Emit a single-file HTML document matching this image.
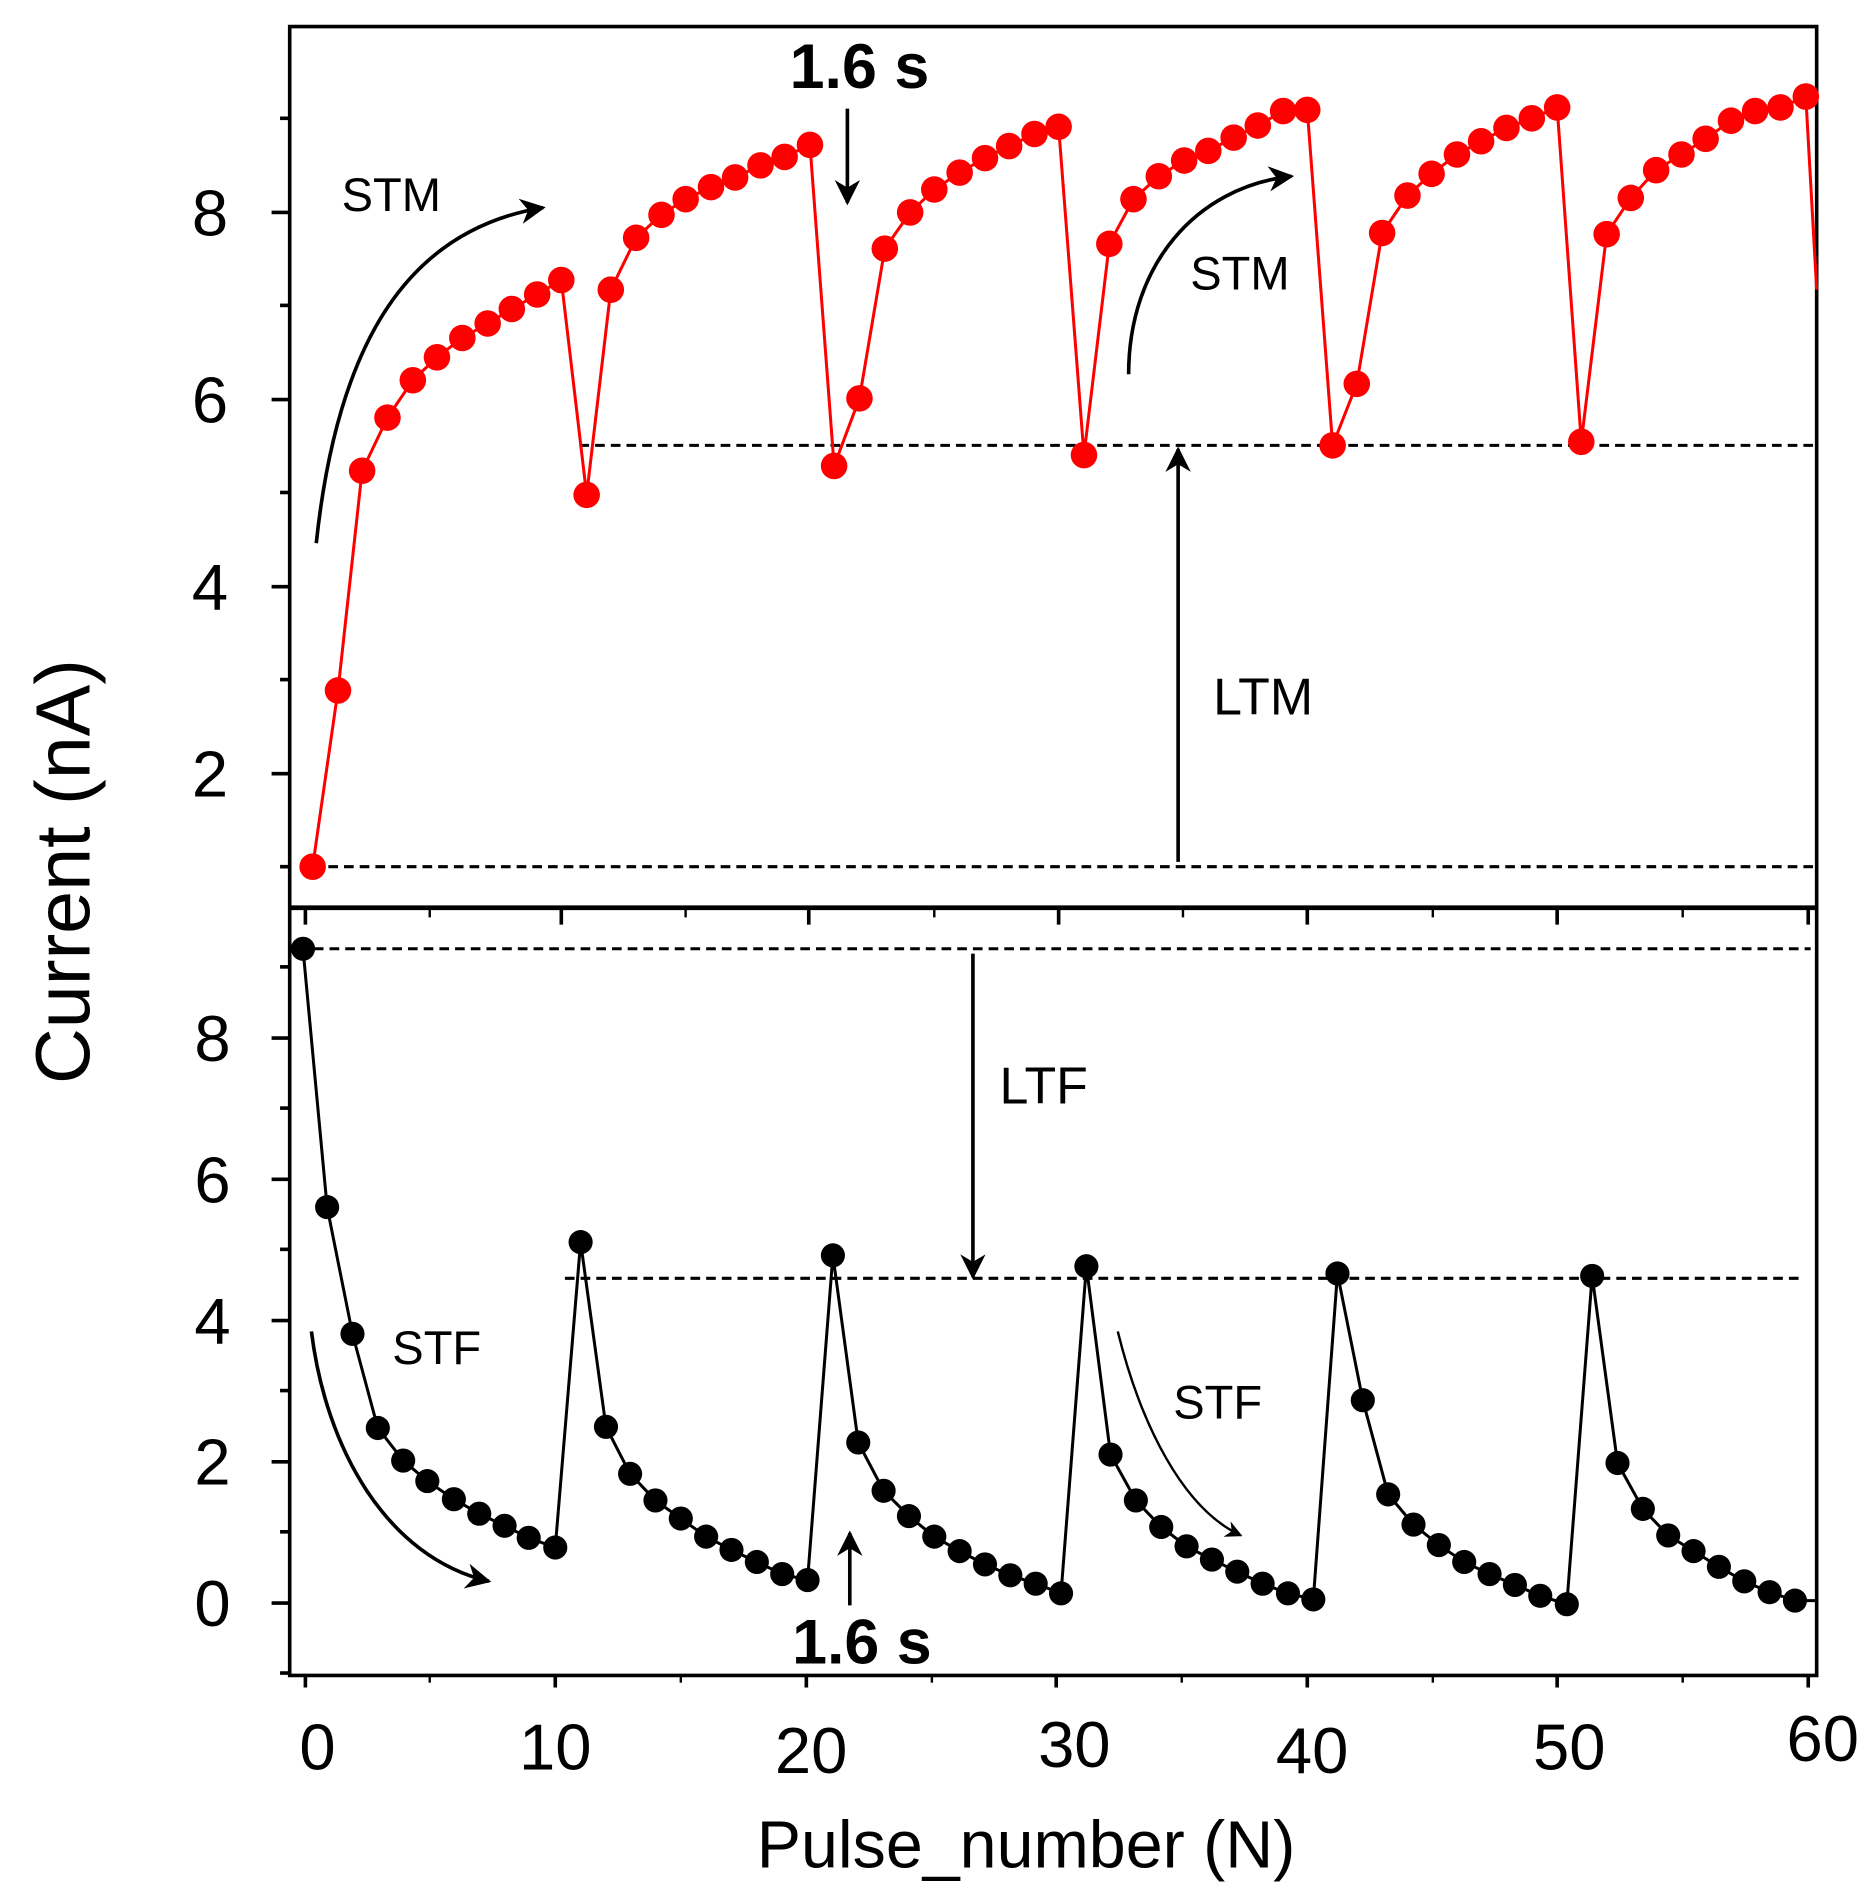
<!DOCTYPE html>
<html><head><style>html,body{margin:0;padding:0;background:#fff}svg{display:block}</style></head>
<body>
<svg width="1871" height="1892" viewBox="0 0 1550 1567.4" xmlns="http://www.w3.org/2000/svg" font-family="Liberation Sans, sans-serif">
<defs>
<marker id="ah" viewBox="0 0 10 10" refX="9" refY="5" markerWidth="7" markerHeight="7" orient="auto-start-reverse"><path d="M0,0 L10,5 L0,10 L3,5 z" fill="#000"/></marker>
</defs>
<rect width="1550" height="1568" fill="#fff"/>
<rect x="240" y="22" width="1265" height="1366" fill="none" stroke="#000" stroke-width="3"/>
<line x1="240" y1="752" x2="1505" y2="752" stroke="#000" stroke-width="4"/>
<g stroke="#000" stroke-width="3">
<line x1="225" y1="176" x2="240" y2="176"/><line x1="225" y1="331" x2="240" y2="331"/><line x1="225" y1="486" x2="240" y2="486"/><line x1="225" y1="641" x2="240" y2="641"/>
<line x1="232" y1="98" x2="240" y2="98"/><line x1="232" y1="253" x2="240" y2="253"/><line x1="232" y1="408" x2="240" y2="408"/><line x1="232" y1="563" x2="240" y2="563"/><line x1="232" y1="718" x2="240" y2="718"/>
<line x1="225" y1="860" x2="240" y2="860"/><line x1="225" y1="977" x2="240" y2="977"/><line x1="225" y1="1094" x2="240" y2="1094"/><line x1="225" y1="1211" x2="240" y2="1211"/><line x1="225" y1="1328" x2="240" y2="1328"/>
<line x1="232" y1="801" x2="240" y2="801"/><line x1="232" y1="918" x2="240" y2="918"/><line x1="232" y1="1035" x2="240" y2="1035"/><line x1="232" y1="1152" x2="240" y2="1152"/><line x1="232" y1="1269" x2="240" y2="1269"/><line x1="232" y1="1386" x2="240" y2="1386"/>
<line x1="253" y1="752" x2="253" y2="766"/><line x1="465" y1="752" x2="465" y2="766"/><line x1="670" y1="752" x2="670" y2="766"/><line x1="877" y1="752" x2="877" y2="766"/><line x1="1083" y1="752" x2="1083" y2="766"/><line x1="1290" y1="752" x2="1290" y2="766"/><line x1="1498" y1="752" x2="1498" y2="766"/>
<line x1="253" y1="1388" x2="253" y2="1398"/><line x1="460" y1="1388" x2="460" y2="1398"/><line x1="668" y1="1388" x2="668" y2="1398"/><line x1="875" y1="1388" x2="875" y2="1398"/><line x1="1083" y1="1388" x2="1083" y2="1398"/><line x1="1290" y1="1388" x2="1290" y2="1398"/><line x1="1498" y1="1388" x2="1498" y2="1398"/>
</g>
<g stroke="#000" stroke-width="2">
<line x1="356" y1="752" x2="356" y2="760"/><line x1="568" y1="752" x2="568" y2="760"/><line x1="774" y1="752" x2="774" y2="760"/><line x1="980" y1="752" x2="980" y2="760"/><line x1="1187" y1="752" x2="1187" y2="760"/><line x1="1394" y1="752" x2="1394" y2="760"/>
<line x1="356" y1="1388" x2="356" y2="1394"/><line x1="564" y1="1388" x2="564" y2="1394"/><line x1="772" y1="1388" x2="772" y2="1394"/><line x1="979" y1="1388" x2="979" y2="1394"/><line x1="1187" y1="1388" x2="1187" y2="1394"/><line x1="1394" y1="1388" x2="1394" y2="1394"/>
</g>
<g font-size="54" text-anchor="middle" fill="#000">
<text x="174" y="195">8</text><text x="174" y="350">6</text><text x="174" y="505">4</text><text x="174" y="660">2</text>
<text x="176" y="879">8</text><text x="176" y="996">6</text><text x="176" y="1113">4</text><text x="176" y="1230">2</text><text x="176" y="1347">0</text>
<text x="263" y="1466">0</text><text x="460" y="1466">10</text><text x="672" y="1469">20</text><text x="890" y="1464">30</text><text x="1087" y="1469">40</text><text x="1300" y="1466">50</text><text x="1510" y="1459">60</text>
</g>
<text x="850" y="1547" font-size="55" text-anchor="middle">Pulse_number (N)</text>
<text transform="translate(74,722) rotate(-90)" font-size="64" text-anchor="middle">Current (nA)</text>
<g stroke="#000" stroke-width="2.5" stroke-dasharray="8,5">
<line x1="480" y1="369" x2="1505" y2="369"/><line x1="259" y1="718" x2="1505" y2="718"/>
<line x1="260" y1="786" x2="1500" y2="786"/><line x1="468" y1="1059" x2="1495" y2="1059"/>
</g>
<polyline fill="none" stroke="#f00" stroke-width="2.5" points="259,718 280,572 300,390 321,346 342,315 362,296 383,280 404,268 424,256 445,244 465,232 486,410 506,240 527,197 548,178 568,165 589,155 609,147 630,137 650,130 671,120 691,386 712,330 733,206 754,176 774,157 795,143 816,131 836,121 857,111 877,105 898,377 919,202 939,165 960,146 981,133 1001,125 1022,114 1042,104 1063,92 1083,91 1104,369 1124,318 1145,193 1166,162 1186,144 1207,128 1227,117 1248,106 1269,98 1290,89 1310,366 1331,194 1351,164 1372,141 1393,128 1413,115 1434,100 1454,92 1475,89 1496,80 1505,240"/>
<g fill="#f00">
<circle cx="259" cy="718" r="11"/><circle cx="280" cy="572" r="11"/><circle cx="300" cy="390" r="11"/><circle cx="321" cy="346" r="11"/><circle cx="342" cy="315" r="11"/><circle cx="362" cy="296" r="11"/><circle cx="383" cy="280" r="11"/><circle cx="404" cy="268" r="11"/><circle cx="424" cy="256" r="11"/><circle cx="445" cy="244" r="11"/><circle cx="465" cy="232" r="11"/><circle cx="486" cy="410" r="11"/><circle cx="506" cy="240" r="11"/><circle cx="527" cy="197" r="11"/><circle cx="548" cy="178" r="11"/><circle cx="568" cy="165" r="11"/><circle cx="589" cy="155" r="11"/><circle cx="609" cy="147" r="11"/><circle cx="630" cy="137" r="11"/><circle cx="650" cy="130" r="11"/><circle cx="671" cy="120" r="11"/><circle cx="691" cy="386" r="11"/><circle cx="712" cy="330" r="11"/><circle cx="733" cy="206" r="11"/><circle cx="754" cy="176" r="11"/><circle cx="774" cy="157" r="11"/><circle cx="795" cy="143" r="11"/><circle cx="816" cy="131" r="11"/><circle cx="836" cy="121" r="11"/><circle cx="857" cy="111" r="11"/><circle cx="877" cy="105" r="11"/><circle cx="898" cy="377" r="11"/><circle cx="919" cy="202" r="11"/><circle cx="939" cy="165" r="11"/><circle cx="960" cy="146" r="11"/><circle cx="981" cy="133" r="11"/><circle cx="1001" cy="125" r="11"/><circle cx="1022" cy="114" r="11"/><circle cx="1042" cy="104" r="11"/><circle cx="1063" cy="92" r="11"/><circle cx="1083" cy="91" r="11"/><circle cx="1104" cy="369" r="11"/><circle cx="1124" cy="318" r="11"/><circle cx="1145" cy="193" r="11"/><circle cx="1166" cy="162" r="11"/><circle cx="1186" cy="144" r="11"/><circle cx="1207" cy="128" r="11"/><circle cx="1227" cy="117" r="11"/><circle cx="1248" cy="106" r="11"/><circle cx="1269" cy="98" r="11"/><circle cx="1290" cy="89" r="11"/><circle cx="1310" cy="366" r="11"/><circle cx="1331" cy="194" r="11"/><circle cx="1351" cy="164" r="11"/><circle cx="1372" cy="141" r="11"/><circle cx="1393" cy="128" r="11"/><circle cx="1413" cy="115" r="11"/><circle cx="1434" cy="100" r="11"/><circle cx="1454" cy="92" r="11"/><circle cx="1475" cy="89" r="11"/><circle cx="1496" cy="80" r="11"/>
</g>
<polyline fill="none" stroke="#000" stroke-width="2.5" points="251,786 271,1000 292,1105 313,1183 334,1210 354,1227 376,1242 397,1254 418,1264 438,1274 460,1282 481,1029 502,1182 522,1221 543,1243 564,1258 585,1273 606,1284 627,1294 648,1304 669,1309 690,1040 711,1195 732,1235 753,1256 774,1273 795,1285 816,1296 837,1305 858,1312 879,1320 900,1049 920,1205 941,1243 962,1265 983,1281 1004,1292 1025,1302 1046,1312 1067,1320 1088,1325 1108,1055 1129,1160 1150,1238 1171,1263 1192,1280 1213,1294 1234,1304 1255,1313 1276,1322 1298,1329 1319,1057 1340,1212 1361,1250 1382,1272 1403,1285 1424,1298 1445,1310 1466,1319 1487,1326 1504,1326"/>
<g fill="#000">
<circle cx="251" cy="786" r="10"/><circle cx="271" cy="1000" r="10"/><circle cx="292" cy="1105" r="10"/><circle cx="313" cy="1183" r="10"/><circle cx="334" cy="1210" r="10"/><circle cx="354" cy="1227" r="10"/><circle cx="376" cy="1242" r="10"/><circle cx="397" cy="1254" r="10"/><circle cx="418" cy="1264" r="10"/><circle cx="438" cy="1274" r="10"/><circle cx="460" cy="1282" r="10"/><circle cx="481" cy="1029" r="10"/><circle cx="502" cy="1182" r="10"/><circle cx="522" cy="1221" r="10"/><circle cx="543" cy="1243" r="10"/><circle cx="564" cy="1258" r="10"/><circle cx="585" cy="1273" r="10"/><circle cx="606" cy="1284" r="10"/><circle cx="627" cy="1294" r="10"/><circle cx="648" cy="1304" r="10"/><circle cx="669" cy="1309" r="10"/><circle cx="690" cy="1040" r="10"/><circle cx="711" cy="1195" r="10"/><circle cx="732" cy="1235" r="10"/><circle cx="753" cy="1256" r="10"/><circle cx="774" cy="1273" r="10"/><circle cx="795" cy="1285" r="10"/><circle cx="816" cy="1296" r="10"/><circle cx="837" cy="1305" r="10"/><circle cx="858" cy="1312" r="10"/><circle cx="879" cy="1320" r="10"/><circle cx="900" cy="1049" r="10"/><circle cx="920" cy="1205" r="10"/><circle cx="941" cy="1243" r="10"/><circle cx="962" cy="1265" r="10"/><circle cx="983" cy="1281" r="10"/><circle cx="1004" cy="1292" r="10"/><circle cx="1025" cy="1302" r="10"/><circle cx="1046" cy="1312" r="10"/><circle cx="1067" cy="1320" r="10"/><circle cx="1088" cy="1325" r="10"/><circle cx="1108" cy="1055" r="10"/><circle cx="1129" cy="1160" r="10"/><circle cx="1150" cy="1238" r="10"/><circle cx="1171" cy="1263" r="10"/><circle cx="1192" cy="1280" r="10"/><circle cx="1213" cy="1294" r="10"/><circle cx="1234" cy="1304" r="10"/><circle cx="1255" cy="1313" r="10"/><circle cx="1276" cy="1322" r="10"/><circle cx="1298" cy="1329" r="10"/><circle cx="1319" cy="1057" r="10"/><circle cx="1340" cy="1212" r="10"/><circle cx="1361" cy="1250" r="10"/><circle cx="1382" cy="1272" r="10"/><circle cx="1403" cy="1285" r="10"/><circle cx="1424" cy="1298" r="10"/><circle cx="1445" cy="1310" r="10"/><circle cx="1466" cy="1319" r="10"/><circle cx="1487" cy="1326" r="10"/>
</g>
<g fill="none" stroke="#000" stroke-width="3" marker-end="url(#ah)">
<line x1="976" y1="714" x2="976" y2="372"/>
<line x1="806" y1="790" x2="806" y2="1058"/>
<line x1="702" y1="90" x2="702" y2="168"/>
<line x1="704" y1="1330" x2="704" y2="1270"/>
<path d="M262,450 C280,280 340,190 450,172"/>
<path d="M935,310 C935,220 990,155 1070,146"/>
<path d="M258,1103 C270,1200 320,1290 405,1310"/>
<path d="M926,1103 C945,1180 980,1250 1028,1272" stroke-width="2"/>
</g>
<g fill="#000">
<text x="283" y="175" font-size="39">STM</text>
<text x="986" y="240" font-size="39">STM</text>
<text x="1005" y="592" font-size="43">LTM</text>
<text x="828" y="914" font-size="43">LTF</text>
<text x="325" y="1130" font-size="39">STF</text>
<text x="972" y="1175" font-size="39">STF</text>
<text x="712" y="73" font-size="52" font-weight="bold" text-anchor="middle">1.6 s</text>
<text x="714" y="1378" font-size="52" font-weight="bold" text-anchor="middle">1.6 s</text>
</g>
</svg>
</body></html>
